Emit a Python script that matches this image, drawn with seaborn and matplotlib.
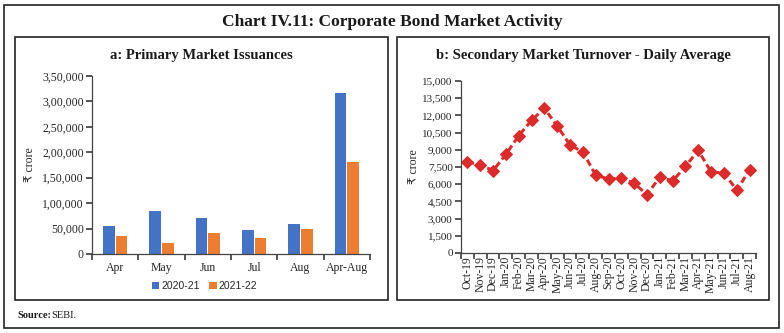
import matplotlib
matplotlib.use("Agg")
import matplotlib.pyplot as plt
import matplotlib.ticker as mticker
from matplotlib.patches import Rectangle
import seaborn as sns
import pandas as pd
import numpy as np

# ---- data ----
months_a = ["Apr", "May", "Jun", "Jul", "Aug", "Apr-Aug"]
issu_2020_21 = [55000, 84400, 70700, 47800, 58200, 316100]
issu_2021_22 = [36000, 21600, 41900, 32100, 49700, 181300]
series_names = ["2020-21", "2021-22"]

months_b = ["Oct-19", "Nov-19", "Dec-19", "Jan-20", "Feb-20", "Mar-20", "Apr-20",
            "May-20", "Jun-20", "Jul-20", "Aug-20", "Sep-20", "Oct-20", "Nov-20",
            "Dec-20", "Jan-21", "Feb-21", "Mar-21", "Apr-21", "May-21", "Jun-21",
            "Jul-21", "Aug-21"]
turnover = [7940, 7700, 7180, 8600, 10230, 11570, 12620, 11080, 9420, 8810, 6800,
            6450, 6540, 6080, 5090, 6630, 6280, 7560, 8950, 7060, 6980, 5490, 7240]

sns.set_theme(style="white")
plt.rcParams['font.family'] = ['Liberation Serif', 'DejaVu Serif']

W, H = 784, 333
fig = plt.figure(figsize=(W / 100, H / 100), dpi=100)


def px_axes(x0, y0, x1, y1):
    return fig.add_axes([x0 / W, (H - y1) / H, (x1 - x0) / W, (y1 - y0) / H])


def indian(v, pos=None):
    v = int(round(v))
    s = str(abs(v))
    if len(s) <= 3:
        out = s
    else:
        last3 = s[-3:]
        rest = s[:-3]
        groups = []
        while len(rest) > 2:
            groups.insert(0, rest[-2:])
            rest = rest[:-2]
        if rest:
            groups.insert(0, rest)
        out = ",".join(groups + [last3])
    return ("-" if v < 0 else "") + out


# frames
fig.patches.append(Rectangle((4 / W, 5 / H), 775 / W, 323 / H, transform=fig.transFigure,
                             fill=False, edgecolor="#222222", linewidth=1.2))
fig.patches.append(Rectangle((15 / W, (H - 300) / H), 373 / W, 263 / H, transform=fig.transFigure,
                             fill=False, edgecolor="#222222", linewidth=1.2))
fig.patches.append(Rectangle((397 / W, (H - 300) / H), 372 / W, 263 / H, transform=fig.transFigure,
                             fill=False, edgecolor="#222222", linewidth=1.2))

fig.text(392 / W, 1 - 22 / H, "Chart IV.11: Corporate Bond Market Activity", ha="center", va="center",
         fontsize=12.5, fontweight="bold", color="#1a1a1a")
fig.text(201 / W, 1 - 56 / H, "a: Primary Market Issuances", ha="center", va="center",
         fontsize=10.5, fontweight="bold", color="#1a1a1a")
fig.text(583 / W, 1 - 56 / H, "b: Secondary Market Turnover - Daily Average", ha="center", va="center",
         fontsize=10.5, fontweight="bold", color="#1a1a1a")
fig.text(17 / W, 1 - 316 / H, "Source:", ha="left", va="center", fontsize=7.5, fontweight="bold", color="#1a1a1a")
fig.text(51 / W, 1 - 316 / H, "SEBI.", ha="left", va="center", fontsize=7.5, color="#1a1a1a")

# ---- panel a ----
dfa = pd.DataFrame({
    "month": months_a * 2,
    "series": [series_names[0]] * len(months_a) + [series_names[1]] * len(months_a),
    "value": issu_2020_21 + issu_2021_22,
})
axa = px_axes(92, 76, 370, 254)
sns.barplot(data=dfa, x="month", y="value", hue="series", order=months_a,
            palette=["#4472C4", "#ED7D31"], width=0.54, gap=0.08, saturation=1,
            edgecolor="none", ax=axa)
axa.set_ylim(0, 350000)
axa.set_xlim(-0.5, len(months_a) - 0.5)
axa.set_yticks(np.arange(0, 350001, 50000))
axa.yaxis.set_major_formatter(mticker.FuncFormatter(indian))
axa.set_xlabel("")
axa.set_ylabel("₹ crore", fontsize=8.5, family=['Liberation Serif', 'DejaVu Sans'], labelpad=4)
axa.set_xticks(np.arange(-0.5, len(months_a), 1))
axa.set_xticklabels([])
axa.set_xticks(np.arange(len(months_a)), minor=True)
axa.set_xticklabels(months_a, minor=True, fontsize=8.5)
axa.tick_params(axis="x", which="minor", length=0, pad=6)
axa.tick_params(axis="x", which="major", length=4, color="#444444", direction="out")
axa.tick_params(axis="y", length=4, color="#444444", direction="out", labelsize=8.5, pad=2)
axa.tick_params(bottom=True, left=True)
for s in ["top", "right"]:
    axa.spines[s].set_visible(False)
for s in ["left", "bottom"]:
    axa.spines[s].set_color("#444444")
    axa.spines[s].set_linewidth(0.9)
leg = axa.legend(loc="center", bbox_to_anchor=(0.405, -0.18), ncol=2, frameon=False,
                 handlelength=0.7, handleheight=0.7, columnspacing=0.9, handletextpad=0.2,
                 prop={"family": "Liberation Sans", "size": 7.5})

# ---- panel b ----
dfb = pd.DataFrame({"month": months_b, "value": turnover})
axb = px_axes(461, 81, 756, 253)
sns.lineplot(data=dfb, x="month", y="value", sort=False, color="#DC2B2B", linestyle=(0, (2.2, 1.2)),
             linewidth=2.2, marker="D", markersize=6, markeredgecolor="#DC2B2B", ax=axb)
axb.set_ylim(0, 15000)
axb.set_xlim(-0.5, len(months_b) - 0.5)
axb.set_yticks(np.arange(0, 15001, 1500))
axb.yaxis.set_major_formatter(mticker.FuncFormatter(indian))
axb.set_xlabel("")
axb.set_ylabel("₹ crore", fontsize=8.5, family=['Liberation Serif', 'DejaVu Sans'], labelpad=2)
axb.set_xticks(np.arange(-0.5, len(months_b), 1))
axb.set_xticklabels([])
axb.set_xticks(np.arange(len(months_b)), minor=True)
axb.set_xticklabels(months_b, minor=True, rotation=90, fontsize=8.5)
axb.tick_params(axis="x", which="minor", length=0, pad=2)
axb.tick_params(axis="x", which="major", length=4, color="#444444", direction="out")
axb.tick_params(axis="y", length=4, color="#444444", direction="out", labelsize=8, pad=2)
axb.tick_params(bottom=True, left=True)
for s in ["top", "right"]:
    axb.spines[s].set_visible(False)
for s in ["left", "bottom"]:
    axb.spines[s].set_color("#444444")
    axb.spines[s].set_linewidth(0.9)

fig.savefig("out.png", dpi=100)
